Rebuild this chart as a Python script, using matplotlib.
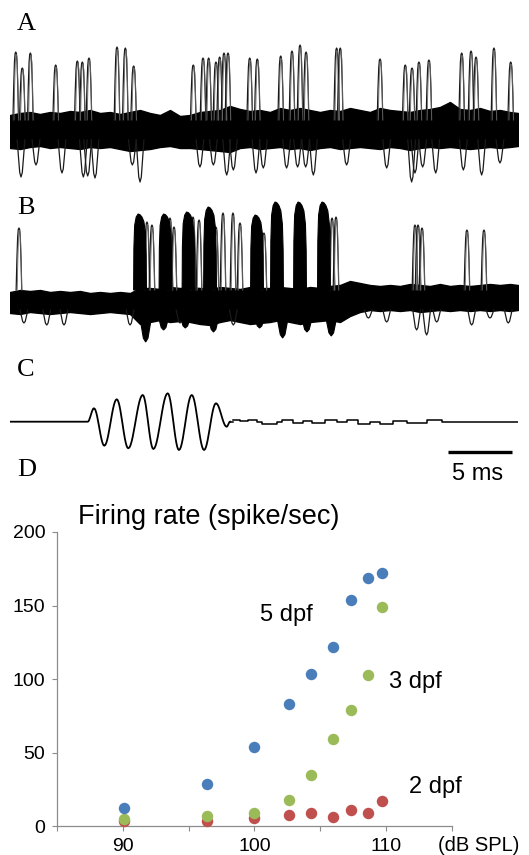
import numpy as np
import matplotlib
matplotlib.use("Agg")
import matplotlib.pyplot as plt

# ---------------- data ----------------
# panel A: spike times (ms) and peak heights, trough times and depths (a.u.)
A_SPIKE_T = [0.45, 0.96, 1.59, 3.57, 5.26, 5.65, 6.17, 8.36, 9.01, 9.66,
             14.32, 15.08, 15.52, 16.09, 16.38, 16.72, 17.03, 18.73, 19.32,
             21.15, 22.03, 22.66, 23.13, 25.52, 25.80, 28.91, 30.88, 31.41,
             31.95, 32.73, 35.29, 36.02, 36.41, 37.81, 39.12]
A_SPIKE_H = [78, 62, 77, 65, 69, 68, 72, 83, 82, 64,
             65, 72, 72, 68, 73, 77, 77, 72, 71,
             74, 79, 85, 78, 82, 82, 71, 65, 62,
             68, 70, 77, 79, 73, 82, 68]
A_TROUGH_T = [0.86, 2.03, 4.06, 5.73, 6.07, 6.64, 9.56, 10.16, 14.84, 15.89,
              16.93, 17.45, 19.22, 19.79, 21.61, 22.47, 23.10, 23.70, 26.30,
              29.43, 31.38, 31.64, 32.24, 33.26, 35.42, 36.85, 38.28]
A_TROUGH_H = [-47, -35, -43, -47, -46, -48, -35, -52, -37, -35,
              -45, -40, -43, -38, -38, -37, -37, -45, -35,
              -38, -52, -43, -37, -43, -40, -45, -33]
A_BAND_UP = [15, 17, 18, 16, 18, 17, 19, 18, 20, 17, 18, 16, 18, 20, 17, 15,
             20, 14, 15, 18, 19, 20, 24, 21, 19, 20, 18, 22, 20, 22, 20, 18,
             20, 19, 22, 20, 18, 22, 20, 19, 18, 20, 21, 23, 28, 21, 20, 22,
             19, 20, 18, 17]
A_BAND_LO = [-18, -19, -17, -16, -18, -17, -18, -19, -17, -18, -17, -19, -21,
             -20, -19, -17, -16, -18, -18, -19, -20, -21, -22, -18, -17, -19,
             -18, -17, -19, -18, -20, -18, -17, -19, -18, -17, -18, -19, -17,
             -18, -20, -18, -17, -18, -17, -18, -19, -18, -17, -18, -17, -16]

# panel B
B_SPIKE_T = [0.70, 10.70, 11.09, 12.50, 12.81, 14.30, 14.77, 16.09, 16.64,
             17.42, 17.97, 19.84, 25.16, 25.47, 31.64, 31.88, 32.19, 35.70, 37.03]
B_SPIKE_H = [72, 78, 75, 82, 73, 83, 80, 73, 87,
             87, 77, 67, 82, 83, 75, 75, 72, 70, 70]
B_BURST_T = [10.16, 12.15, 13.95, 15.63, 19.30, 20.86, 22.66, 24.53]
B_BURST_H = [86, 86, 88, 93, 85, 98, 98, 98]
B_DARK_TROUGH_T = [10.6, 12.0, 13.7, 15.9, 19.5, 21.3, 23.2, 25.1]
B_DARK_TROUGH_H = [-42, -30, -28, -32, -28, -38, -32, -36]
B_TROUGH_T = [1.09, 2.87, 4.22, 9.38, 13.28, 17.45, 28.0, 29.43, 31.77,
              32.55, 33.34, 36.07, 37.5, 38.93]
B_TROUGH_H = [-23, -25, -25, -25, -23, -25, -18, -22, -30,
              -35, -22, -25, -18, -23]
B_BAND_UP = [8, 10, 9, 10, 8, 9, 8, 9, 7, 8, 7, 8, 7, 12, 12, 11, 13, 12, 13,
             12, 11, 13, 12, 11, 13, 12, 12, 13, 12, 11, 13, 12, 14, 15, 19,
             17, 15, 14, 15, 14, 16, 15, 14, 16, 14, 15, 14, 15, 16, 15, 16, 15]
B_BAND_LO = [-13, -14, -12, -13, -14, -13, -12, -13, -14, -13, -12, -13, -14,
             -24, -22, -20, -22, -21, -22, -24, -25, -22, -20, -22, -24, -23,
             -22, -20, -22, -24, -22, -21, -20, -22, -16, -12, -10, -11, -10,
             -11, -10, -12, -11, -10, -11, -10, -11, -10, -11, -10, -11, -10]

# panel C: stimulus extrema (ms, a.u.) and residual ripple steps
C_TONE_T = [6.07, 6.56, 7.37, 8.34, 9.24, 10.37, 11.20, 12.32, 13.20, 14.20,
            15.16, 16.09, 16.93, 17.19]
C_TONE_V = [0, 13.4, -24, 22.4, -26.6, 26.7, -27.3, 28.4, -28.3, 26.7,
            -28.3, 18.4, -5, 0]
C_STEP_T = [17.45, 17.97, 18.62, 19.27, 19.66, 20.83, 21.22, 22.14, 22.92,
            23.57, 24.61, 25.52, 26.30, 27.21, 28.13, 28.91, 29.95, 30.99,
            32.55, 33.73, 39.69]
C_STEP_V = [2.0, 0.8, 1.3, -0.8, -2.5, -0.8, 1.3, -1.2, 0.8, -1.2, 1.3, 0,
            1.3, -2.5, 0, -2.5, 0.8, -1.2, 1.3, 0, 0]

# panel D: firing rate vs sound level
SPL = [90.1, 96.4, 100.0, 102.6, 104.3, 105.95, 107.3, 108.6, 109.7]
RATE_5DPF = [12.0, 28.8, 54.0, 83.1, 103.5, 121.9, 153.5, 168.7, 172.1]
RATE_3DPF = [4.8, 6.8, 8.9, 17.5, 34.5, 59.3, 79.2, 102.8, 148.9]
RATE_2DPF = [3.6, 3.6, 5.4, 7.7, 8.6, 6.4, 10.9, 8.6, 16.8]

# ---------------- drawing ----------------
W, H = 529, 855
fig = plt.figure(figsize=(W / 100, H / 100), dpi=100)
T_END = 39.69
band_t = np.r_[np.arange(0, 39.1, 0.78125), T_END]

SPIKE_DX = np.array([-0.22, -0.16, -0.1, -0.05, 0, 0.05, 0.1, 0.16, 0.22])
SPIKE_FR = np.array([0, 0.5, 0.86, 0.98, 1, 0.98, 0.86, 0.5, 0])
TR_DX = np.array([-0.3, -0.2, -0.1, 0, 0.1, 0.2, 0.3])
TR_FR = np.array([0, 0.45, 0.88, 1, 0.88, 0.45, 0])
BL_DX = np.array([-0.5, -0.48, -0.42, -0.3, -0.15, 0, 0.15, 0.3, 0.42, 0.48, 0.5])
BL_FR = np.array([0, 0.55, 0.85, 0.96, 1, 0.99, 0.96, 0.9, 0.75, 0.45, 0])
BASE = 10  # spikes / troughs start inside the noise band


def px_axes(top, bottom, left=10, right=518):
    ax = fig.add_axes([left / W, 1 - bottom / H, (right - left) / W, (bottom - top) / H])
    ax.set_axis_off()
    return ax


def draw_trace(ax, up, lo, spk_t, spk_h, tr_t, tr_h):
    ax.fill_between(band_t, lo, up, color="k", zorder=2)
    for t, h in zip(spk_t, spk_h):
        ax.plot(t + SPIKE_DX, BASE + (h - BASE) * SPIKE_FR, color="#1a1a1a",
                lw=0.9, zorder=3)
        ax.plot(t + 0.04 + SPIKE_DX * 0.8, BASE + (h * 0.97 - BASE) * SPIKE_FR,
                color="#666666", lw=0.6, zorder=3)
    for t, h in zip(tr_t, tr_h):
        ax.plot(t + TR_DX, -BASE + (h + BASE) * TR_FR, color="#1a1a1a",
                lw=0.9, zorder=3)


# A
axA = px_axes(40, 190)
draw_trace(axA, A_BAND_UP, A_BAND_LO, A_SPIKE_T, A_SPIKE_H, A_TROUGH_T, A_TROUGH_H)
axA.set_xlim(0, T_END)
axA.set_ylim(-60, 90)

# B
axB = px_axes(195, 345)
draw_trace(axB, B_BAND_UP, B_BAND_LO, B_SPIKE_T, B_SPIKE_H, B_TROUGH_T, B_TROUGH_H)
for t, h in zip(B_BURST_T, B_BURST_H):
    axB.fill(t + BL_DX, BASE + (h - BASE) * BL_FR, color="k", lw=0.8, zorder=4)
for t, h in zip(B_DARK_TROUGH_T, B_DARK_TROUGH_H):
    axB.fill(t + TR_DX * 1.8, -BASE + (h + BASE) * TR_FR, color="k", lw=0.8, zorder=4)
axB.set_xlim(0, T_END)
axB.set_ylim(-45, 105)

# C
axC = px_axes(380, 460)
cx, cy = [0.0], [0.0]
s = np.linspace(0, 1, 14)
for i in range(len(C_TONE_T) - 1):
    t0, t1 = C_TONE_T[i], C_TONE_T[i + 1]
    v0, v1 = C_TONE_V[i], C_TONE_V[i + 1]
    cx.extend(t0 + (t1 - t0) * s)
    cy.extend(v0 + (v1 - v0) * (1 - np.cos(np.pi * s)) / 2)
axC.plot(cx, cy, color="k", lw=1.3)
axC.plot([C_TONE_T[-1], C_STEP_T[0]], [0, 0], color="k", lw=1.1)
axC.plot(C_STEP_T, C_STEP_V, color="k", lw=1.1, drawstyle="steps-post")
axC.plot([34.22, 39.22], [-30, -30], color="k", lw=2.4, solid_capstyle="butt")
axC.set_xlim(0, T_END)
axC.set_ylim(-38.3, 41.7)

fig.text(478 / W, 1 - 474 / H, "5 ms", family="Liberation Sans", fontsize=17,
         ha="center", va="center")

for lab, y in [("A", 24), ("B", 208), ("C", 370), ("D", 470)]:
    fig.text(17 / W, 1 - y / H, lab, family="Liberation Serif", fontsize=19,
             ha="left", va="center")

# D scatter
axD = fig.add_axes([57 / W, 29 / H, (452 - 57) / W, (826 - 532) / H])
axD.scatter(SPL, RATE_2DPF, s=68, color="#c0504d", lw=0, zorder=3, clip_on=False)
axD.scatter(SPL, RATE_3DPF, s=68, color="#9bbb59", lw=0, zorder=4, clip_on=False)
axD.scatter(SPL, RATE_5DPF, s=68, color="#4a7ebb", lw=0, zorder=5, clip_on=False)
axD.set_xlim(85, 115)
axD.set_ylim(0, 200)
axD.set_xticks([85, 90, 95, 100, 105, 110, 115])
axD.set_xticklabels(["", "90", "", "100", "", "110", ""])
axD.set_yticks([0, 50, 100, 150, 200])
for side in ["top", "right"]:
    axD.spines[side].set_visible(False)
for side in ["left", "bottom"]:
    axD.spines[side].set_color("#8c8c8c")
    axD.spines[side].set_linewidth(0.9)
axD.tick_params(axis="both", direction="out", length=3.3, width=0.8, color="#8c8c8c",
                labelsize=14, pad=5)
for lbl in axD.get_xticklabels() + axD.get_yticklabels():
    lbl.set_family("Liberation Sans")

axD.text(100.44, 143.7, "5 dpf", family="Liberation Sans", fontsize=17, va="center")
axD.text(110.2, 98.1, "3 dpf", family="Liberation Sans", fontsize=17, va="center")
axD.text(111.7, 26.6, "2 dpf", family="Liberation Sans", fontsize=17, va="center")

fig.text(478.5 / W, 1 - 845 / H, "(dB SPL)", family="Liberation Sans", fontsize=14.5,
         ha="center", va="center")
fig.text(78 / W, 1 - 517 / H, "Firing rate (spike/sec)", family="Liberation Sans",
         fontsize=19.5, ha="left", va="center")

fig.savefig("out.png", dpi=100)
